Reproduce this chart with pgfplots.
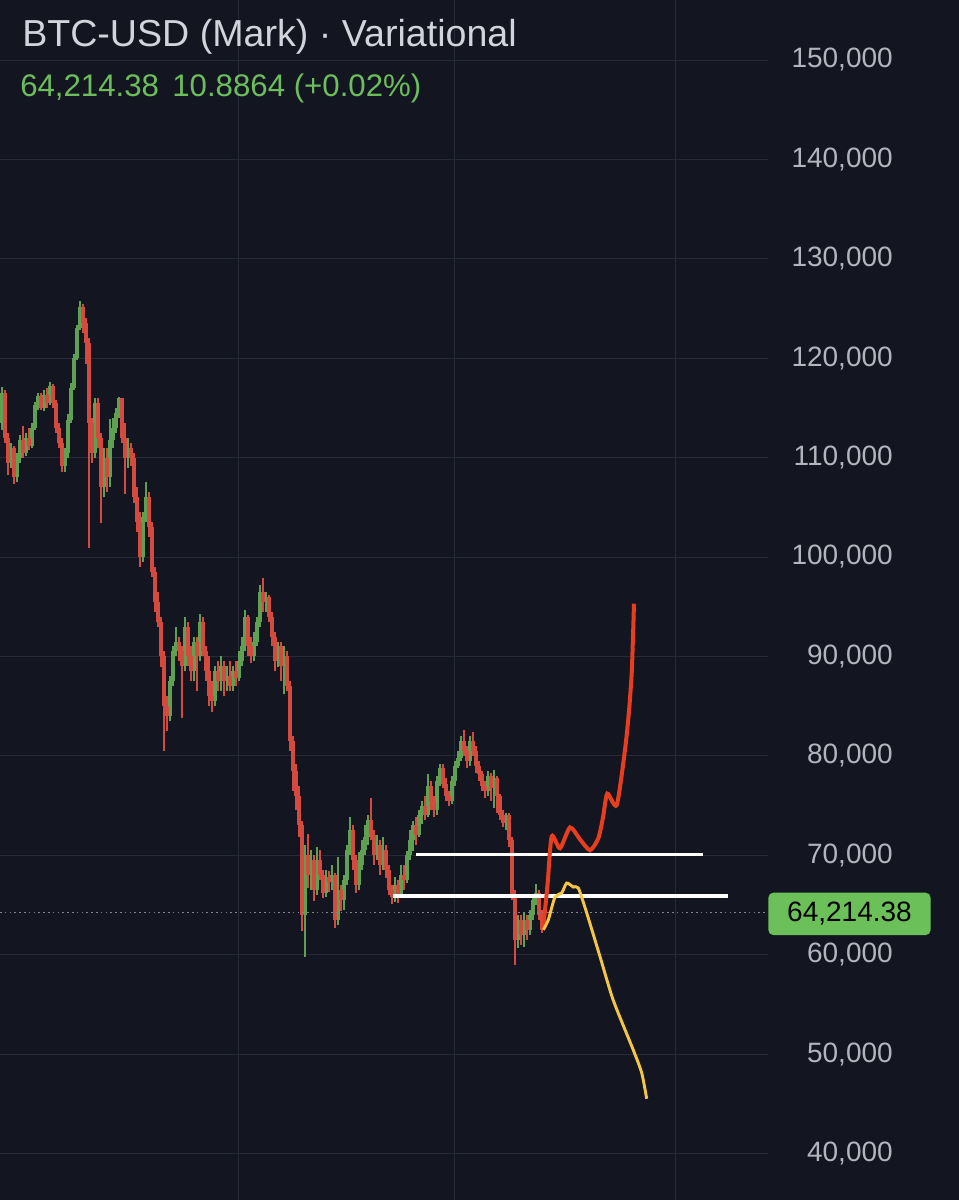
\documentclass[border=0pt]{standalone}
\usepackage{fontspec}
\setmainfont{Liberation Sans}
\usepackage{pgfplots}
\usepackage{pgfplotstable}
\pgfplotsset{compat=1.18}
\definecolor{bg}{RGB}{19,22,32}
\definecolor{gridc}{RGB}{38,42,54}
\definecolor{cup}{RGB}{96,160,82}
\definecolor{cdn}{RGB}{212,74,62}
\definecolor{titlec}{RGB}{210,212,220}
\definecolor{greentxt}{RGB}{108,190,92}
\definecolor{tickc}{RGB}{178,181,190}
\definecolor{boxc}{RGB}{107,192,90}
\definecolor{dotc}{RGB}{130,134,146}
\definecolor{projred}{RGB}{232,62,30}
\definecolor{projyel}{RGB}{247,198,64}

% prices in thousands of USD
\pgfplotstableread{
x o h l c
2 113.5 117.1 112.8 116.5
5 116.5 116.8 111.5 112.0
8 112.0 112.5 108.2 109.5
11 109.5 111.5 109.0 111.0
14 111.0 111.2 107.3 108.0
17 108.0 110.5 107.5 110.0
20 110.0 112.3 109.5 111.8
23 111.8 113.2 110.0 110.5
26 110.5 112.5 110.2 112.0
29 112.0 113.0 110.8 111.2
32 111.2 113.5 111.0 113.0
35 113.0 115.6 112.8 115.3
38 115.3 116.5 114.8 116.2
41 116.2 116.5 114.8 115.0
44 115.0 116.8 114.7 116.3
47 116.3 117.0 115.0 115.5
50 115.5 117.6 115.3 117.2
53 117.2 117.4 115.0 115.5
56 115.5 115.8 112.5 113.0
59 113.0 113.5 111.0 111.5
62 111.5 112.0 108.6 109.2
65 109.2 111.0 108.6 110.5
68 110.5 114.4 110.0 113.8
71 113.8 117.5 113.5 117.0
74 117.0 120.4 116.8 120.0
77 120.0 123.3 119.8 123.0
80 123.0 125.8 122.8 125.2
83 125.2 125.5 122.5 123.5
86 123.5 124.0 119.4 121.5
89 121.5 122.0 100.9 113.5
92 113.5 114.0 109.5 110.5
95 110.5 116.0 110.0 115.5
98 115.5 116.0 111.0 112.0
101 112.0 112.5 103.4 107.0
104 107.0 111.0 106.0 110.0
107 110.0 111.0 106.5 108.0
110 108.0 113.9 107.0 111.8
113 111.8 114.0 111.0 113.0
116 113.0 115.0 112.5 114.5
119 114.5 116.1 114.0 116.0
122 116.0 116.0 111.5 112.0
125 112.0 113.5 106.3 110.0
128 110.0 112.0 109.0 111.0
131 111.0 111.5 109.2 110.0
134 110.0 110.5 105.4 106.0
137 106.0 107.0 102.5 103.5
140 103.5 104.5 99.0 100.0
143 100.0 104.5 99.5 104.0
146 104.0 107.5 103.5 106.0
149 106.0 106.5 102.0 103.0
152 103.0 103.5 98.0 98.5
155 98.5 99.0 94.5 95.5
158 95.5 96.5 93.0 93.5
161 93.5 94.0 88.9 90.0
164 90.0 90.5 80.5 85.0
167 85.0 86.0 82.5 84.0
170 84.0 88.0 83.5 87.5
173 87.5 91.0 87.0 90.5
176 90.5 93.0 90.0 91.5
179 91.5 92.0 89.5 90.5
182 90.5 91.0 83.8 89.0
185 89.0 94.0 88.5 93.0
188 93.0 93.5 89.0 90.0
191 90.0 91.0 87.5 88.5
194 88.5 92.0 87.5 91.5
197 91.5 92.0 86.5 90.0
200 90.0 94.3 89.5 93.5
203 93.5 94.0 90.0 90.5
206 90.5 91.0 87.5 88.5
209 88.5 90.0 85.0 86.0
212 86.0 87.5 84.4 85.5
215 85.5 89.0 85.0 88.5
218 88.5 89.5 86.5 87.5
221 87.5 90.0 86.5 89.0
224 89.0 89.5 86.0 87.5
227 87.5 89.0 86.5 88.0
230 88.0 89.5 86.5 87.0
233 87.0 89.0 86.5 88.5
236 88.5 89.5 87.0 87.8
239 87.8 90.5 87.5 89.5
242 89.5 92.0 89.0 91.0
245 91.0 94.7 90.5 94.0
248 94.0 94.2 90.0 91.0
251 91.0 92.0 89.3 90.0
254 90.0 92.5 89.5 91.5
257 91.5 94.0 91.0 93.5
260 93.5 97.2 93.0 96.5
263 96.5 97.9 94.5 95.5
266 95.5 96.5 94.5 96.0
269 96.0 96.2 93.5 94.0
272 94.0 94.5 91.0 92.0
275 92.0 92.5 88.5 89.5
278 89.5 91.5 88.9 91.0
281 91.0 91.5 87.5 89.0
284 89.0 91.0 86.2 90.0
287 90.0 90.5 86.5 87.0
290 87.0 87.5 80.5 81.5
293 81.5 82.0 76.5 78.5
296 78.5 79.2 74.5 76.0
299 76.0 77.0 71.8 73.0
302 73.0 73.4 62.4 64.0
305 64.0 71.0 59.8 70.0
308 70.0 72.1 66.7 68.0
311 68.0 70.5 66.5 69.5
314 69.5 70.0 65.4 66.5
317 66.5 70.8 66.0 69.5
320 69.5 70.5 67.5 68.0
323 68.0 68.5 65.7 66.2
326 66.2 68.5 65.8 67.8
329 67.8 68.4 66.3 67.3
332 67.3 69.0 66.5 68.0
335 68.0 68.2 62.7 63.5
338 63.5 69.8 63.0 66.5
341 66.5 67.0 64.4 65.5
344 65.5 68.0 64.5 67.5
347 67.5 71.0 67.0 70.5
350 70.5 73.8 70.0 72.5
353 72.5 73.0 68.5 69.5
356 69.5 70.0 66.2 67.0
359 67.0 70.3 66.5 69.0
362 69.0 71.5 68.5 70.5
365 70.5 73.0 70.0 71.8
368 71.8 74.0 71.0 73.5
371 73.5 75.8 71.5 72.0
374 72.0 72.5 69.0 70.0
377 70.0 72.0 69.5 71.0
380 71.0 71.5 68.0 69.0
383 69.0 71.8 68.5 70.5
386 70.5 71.0 67.7 68.5
389 68.5 69.0 66.0 66.5
392 66.5 67.0 65.1 65.8
395 65.8 67.8 65.3 67.0
398 67.0 67.5 65.2 66.0
401 66.0 69.0 65.7 68.0
404 68.0 69.0 66.5 67.5
407 67.5 70.4 67.2 70.0
410 70.0 72.5 69.5 71.5
413 71.5 73.4 70.4 73.0
416 73.0 73.8 71.0 72.0
419 72.0 74.5 71.8 74.0
422 74.0 75.5 73.1 75.0
425 75.0 76.0 73.5 74.0
428 74.0 78.2 73.8 77.0
431 77.0 77.5 74.5 75.5
434 75.5 76.0 73.8 74.5
437 74.5 78.0 74.0 77.5
440 77.5 79.2 77.0 78.8
443 78.8 79.2 76.8 77.2
446 77.2 77.8 75.5 76.0
449 76.0 76.5 75.0 75.5
452 75.5 78.0 75.2 77.5
455 77.5 79.5 77.0 79.0
458 79.0 80.5 78.8 79.8
461 79.8 82.0 79.5 81.5
464 81.5 82.6 80.0 80.5
467 80.5 81.0 78.8 79.5
470 79.5 82.0 79.0 81.5
473 81.5 82.4 80.0 80.5
476 80.5 81.0 78.3 79.0
479 79.0 79.5 77.5 78.2
482 78.2 78.5 76.5 77.0
485 77.0 77.5 75.8 76.5
488 76.5 78.5 76.0 78.0
491 78.0 78.3 75.5 76.8
494 76.8 78.6 74.8 77.8
497 77.8 78.0 74.2 76.0
500 76.0 76.2 73.5 74.0
503 74.0 74.5 72.8 73.2
506 73.2 74.2 72.5 74.0
509 74.0 74.2 70.8 71.5
512 71.5 71.8 65.5 66.0
515 66.0 66.5 59.0 61.5
518 61.5 64.0 60.7 63.5
521 63.5 64.0 61.0 62.0
524 62.0 64.2 60.8 63.5
527 63.5 64.0 61.5 62.5
530 62.5 64.5 62.0 64.0
533 64.0 66.0 63.5 65.5
536 65.5 67.1 65.0 66.2
539 66.2 66.5 63.5 64.0
542 64.0 64.5 62.2 62.5
}\candles

\begin{document}
\begin{tikzpicture}
\fill[bg] (0,0) rectangle (719.25pt,900pt);
\begin{axis}[
  at={(0,0)}, anchor=south west,
  scale only axis, width=576pt, height=900pt,
  xmin=0, xmax=768, ymin=35.316, ymax=156.036,
  axis line style={draw=none},
  major tick length=0pt,
  xtick={238,454,675}, xticklabels={},
  ytick={40,50,60,70,80,90,100,110,120,130,140,150},
  yticklabels={{40,000},{50,000},{60,000},{70,000},{80,000},{90,000},{100,000},{110,000},{120,000},{130,000},{140,000},{150,000}},
  ymajorgrids, xmajorgrids,
  grid style={gridc, line width=0.6pt},
  yticklabel pos=right,
  y tick label style={anchor=east, xshift=93.75pt, inner sep=0pt, text=tickc, font=\fontsize{21}{21}\selectfont},
  clip mode=individual,
]
% wicks (low to high)
\addplot[draw=cup, line width=0.8pt, -, mark=none, restrict expr to domain={\thisrow{c}-\thisrow{o}}{0:1000},
  quiver={u=0, v=\thisrow{h}-\thisrow{l}, every arrow/.append style={line width=0.8pt}}]
  table[x=x, y=l] {\candles};
\addplot[draw=cdn, line width=0.8pt, -, mark=none, restrict expr to domain={\thisrow{c}-\thisrow{o}}{-1000:-0.0001},
  quiver={u=0, v=\thisrow{h}-\thisrow{l}, every arrow/.append style={line width=0.8pt}}]
  table[x=x, y=l] {\candles};
% bodies (open to close)
\addplot[draw=cup, line width=2.4pt, -, mark=none, restrict expr to domain={\thisrow{c}-\thisrow{o}}{0:1000},
  quiver={u=0, v=\thisrow{c}-\thisrow{o}, every arrow/.append style={line width=2.4pt}}]
  table[x=x, y=o] {\candles};
\addplot[draw=cdn, line width=2.4pt, -, mark=none, restrict expr to domain={\thisrow{c}-\thisrow{o}}{-1000:-0.0001},
  quiver={u=0, v=\thisrow{c}-\thisrow{o}, every arrow/.append style={line width=2.4pt}}]
  table[x=x, y=o] {\candles};
% last price dotted line
\addplot[dotc, line width=0.8pt, dash pattern=on 1.2pt off 2.4pt] coordinates {(0,64.21438) (768,64.21438)};
% white levels
\addplot[white, line width=2.4pt] coordinates {(416,70.1) (703,70.1)};
\addplot[white, line width=2.4pt] coordinates {(393,65.9) (728,65.9)};
% projections
\addplot[projred, line width=3pt, smooth, tension=0.4] coordinates {
(543,62.5) (547.5,67.0) (551.7,71.9) (560,70.7) (570,72.8) (580,71.6) (590,70.5)
(598.3,71.7) (603,73.8) (607.3,76.2) (616.7,75.05) (625,80.6) (629,84.5) (631.7,88.3) (633,92.0) (634,95.3)};
\addplot[projyel, line width=2.2pt, smooth, tension=0.4] coordinates {
(543.3,62.5) (548.3,63.5) (555,65.8) (561.7,66.2) (566.7,67.2) (573.3,66.8) (578.3,66.7)
(586.7,64.2) (600,59.8) (613.3,55.4) (633.3,50.4) (641.7,48.1) (646.7,45.5)};
\node[fill=boxc, rounded corners=4pt, minimum width=121.8pt, minimum height=32pt, inner sep=0pt,
  text=black, font=\fontsize{21}{21}\selectfont] at (axis cs:849.5,64.1) {64,214.38};
\end{axis}
\node[anchor=base west, text=titlec, font=\fontsize{28.2}{30}\selectfont, inner sep=0pt] at (16.5pt,865pt) {BTC-USD (Mark) · Variational};
\node[anchor=base west, text=greentxt, font=\fontsize{23.4}{26}\selectfont, inner sep=0pt] at (15pt,827.5pt) {64,214.38\hspace{10pt}10.8864 (+0.02\%)};
\pgfresetboundingbox
\useasboundingbox (0,0) rectangle (719.25pt,900pt);
\end{tikzpicture}
\end{document}
